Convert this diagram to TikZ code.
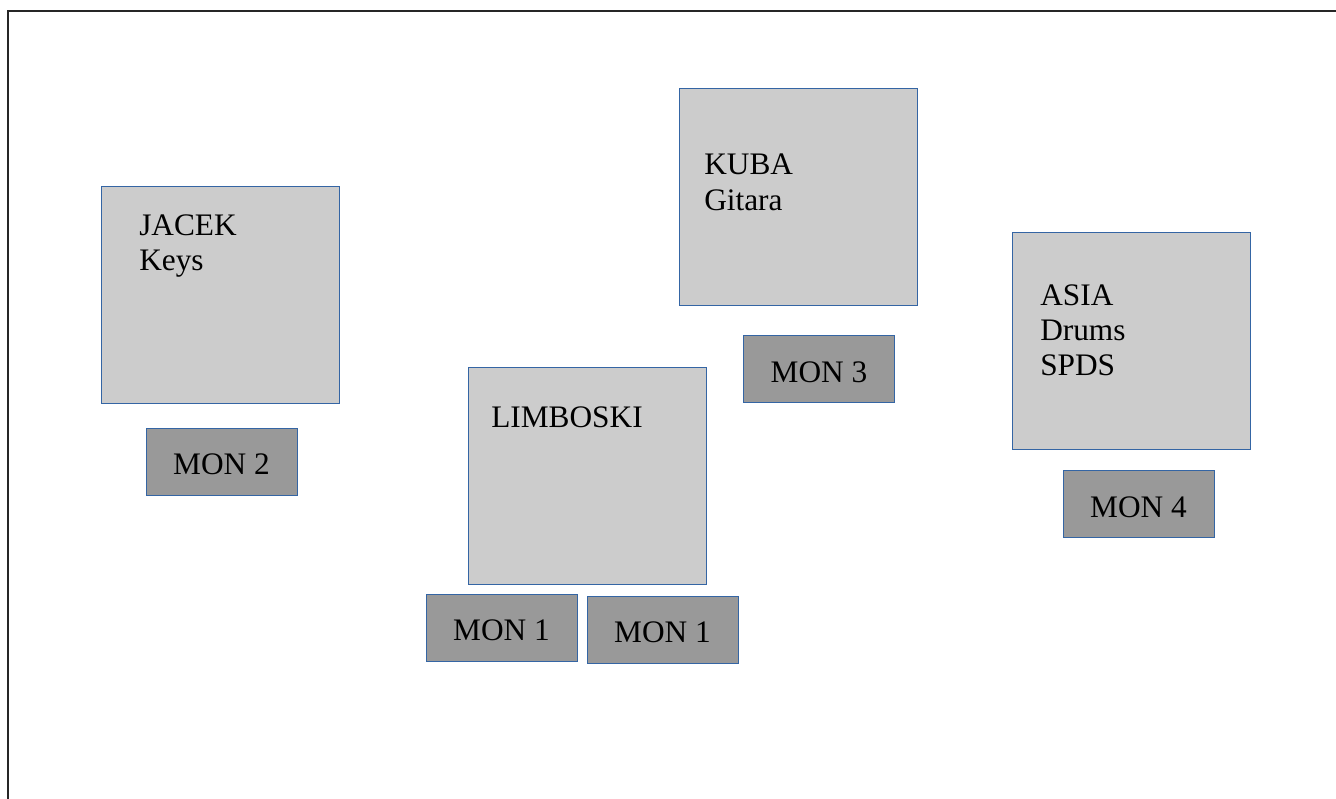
\documentclass[tikz,border=0pt]{standalone}
\usepackage{fontspec}
\setmainfont{Liberation Serif}
\usepackage{tikz}

\definecolor{standfill}{HTML}{CCCCCC}
\definecolor{monfill}{HTML}{999999}
\definecolor{edgeblue}{HTML}{3465A4}

\begin{document}
\begin{tikzpicture}[x=0.75pt,y=-0.75pt,
    player/.style={draw=edgeblue,fill=standfill,line width=0.75pt,minimum width=178.5pt,minimum height=162.75pt,inner sep=0pt},
    monitor/.style={draw=edgeblue,fill=monfill,line width=0.75pt,minimum width=113.25pt,minimum height=50.25pt,inner sep=0pt,text height=20pt,text depth=0pt,font=\fontsize{23.5}{26.6}\selectfont},
    who/.style={anchor=north west,inner sep=0pt,align=left,font=\fontsize{23.5}{26.6}\selectfont}]
        \useasboundingbox (0,0) rectangle (1336,799);
        \draw [line width=1.8pt,black!85] (8,810) -- (8,11) -- (1345,11);

        % stands
        \node [player] (jacek) at (220,294.5) {};
        \node [player] (kuba) at (798,197) {};
        \node [player] (asia) at (1131.5,341) {};
        \node [player] (limboski) at (587,476) {};

        \node [who] (jacektxt) at (139,214) {JACEK\\Keys};
        \node [who] (kubatxt) at (704,154) {KUBA\\Gitara};
        \node [who] (asiatxt) at (1040,284) {ASIA\\Drums\\SPDS};
        \node [who] (limboskitxt) at (491,406) {LIMBOSKI};

        % monitors
        \node [monitor] (mon2) at (221.5,461.5) {MON 2};
        \node [monitor] (mon3) at (819,369) {MON 3};
        \node [monitor] (mon4) at (1138.5,504) {MON 4};
        \node [monitor] (mon1a) at (501.5,627.5) {MON 1};
        \node [monitor] (mon1b) at (662.5,629.5) {MON 1};
    \end{tikzpicture}
\end{document}
